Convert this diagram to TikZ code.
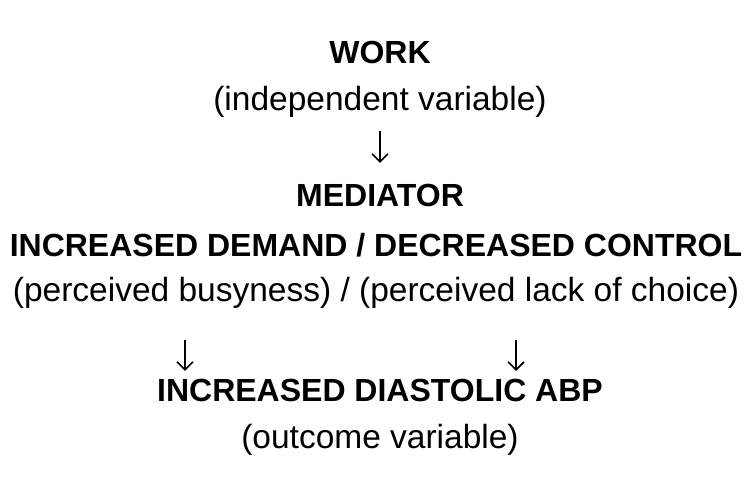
\documentclass[tikz,border=0pt]{standalone}
\usepackage{fontspec}
\setmainfont{Liberation Sans}
\usetikzlibrary{arrows.meta,positioning}

\begin{document}
\begin{tikzpicture}[x=1pt,y=1pt,
  heading/.style={font=\fontsize{32}{36}\selectfont\bfseries, inner sep=0pt, anchor=center},
  note/.style={font=\fontsize{33.5}{38}\selectfont, inner sep=0pt, anchor=center},
  flow/.style={-{Straight Barb[length=8pt,width=16pt]}, line width=1.6pt}]
  \useasboundingbox (0,0) rectangle (752,492);

  % Independent variable
  \node[heading] (work) at (380,440) {WORK};
  \node[note] (indep) at (380,390) {(independent variable)};

  % Mediator
  \node[heading] (mediator) at (380,297) {MEDIATOR};
  \node[heading] (demand) at (376,247) {INCREASED DEMAND / DECREASED CONTROL};
  \node[note] (perceived) at (376,199) {(perceived busyness) / (perceived lack of choice)};

  % Outcome
  \node[heading] (abp) at (380,102) {INCREASED DIASTOLIC ABP};
  \node[note] (outcome) at (380,52) {(outcome variable)};

  % Arrows
  \coordinate (a1top) at (380,361);
  \coordinate (a1bot) at (380,329);
  \coordinate (a2top) at (185,152);
  \coordinate (a2bot) at (185,121);
  \coordinate (a3top) at (516,152);
  \coordinate (a3bot) at (516,121);
  \draw[flow] (a1top) -- (a1bot);
  \draw[flow] (a2top) -- (a2bot);
  \draw[flow] (a3top) -- (a3bot);
\end{tikzpicture}
\end{document}
